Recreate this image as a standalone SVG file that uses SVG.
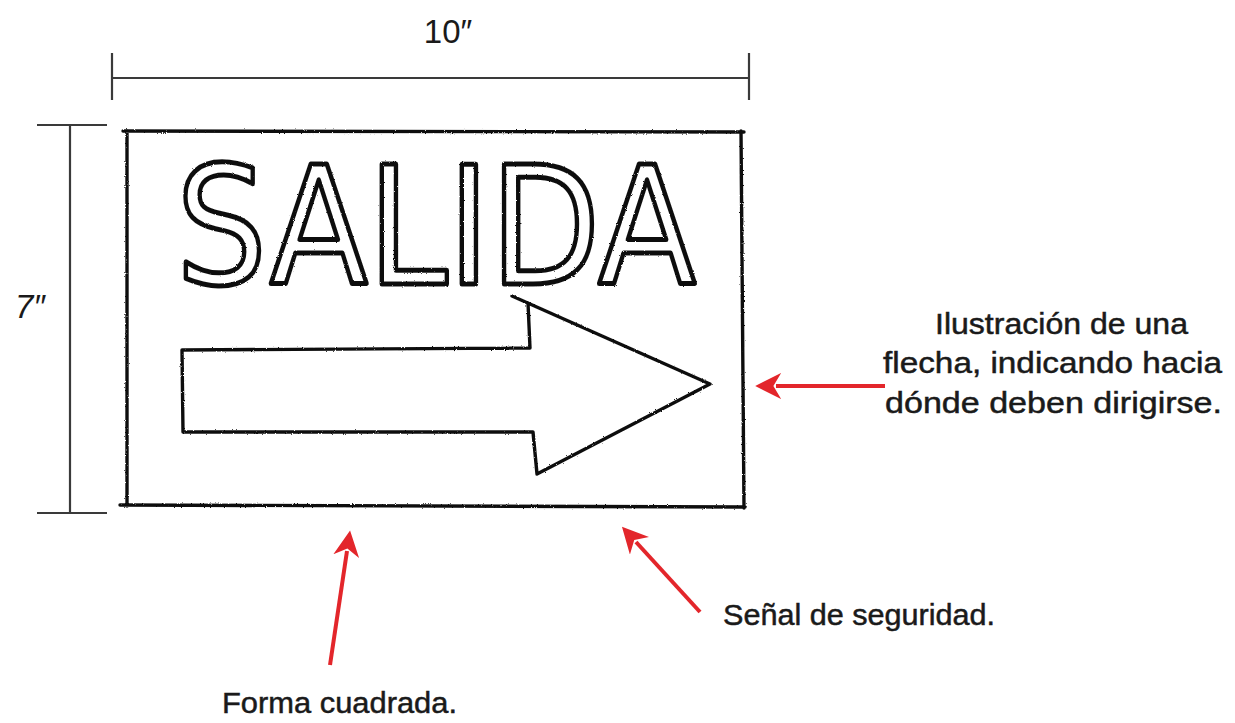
<svg xmlns="http://www.w3.org/2000/svg" width="1235" height="723" viewBox="0 0 1235 723">
<defs>
<filter id="rough" x="-5%" y="-5%" width="110%" height="110%">
<feTurbulence type="fractalNoise" baseFrequency="0.9" numOctaves="2" seed="3" result="n"/>
<feDisplacementMap in="SourceGraphic" in2="n" scale="2.2"/>
</filter>
<marker id="redhead" viewBox="0 0 10 10" refX="2" refY="5" markerWidth="6.5" markerHeight="6.5" orient="auto" markerUnits="strokeWidth">
<path d="M0,0 L10,5 L0,10 L3,5 Z" fill="#e3262b"/>
</marker>
</defs>
<style>
.dim{stroke:#3a3a3a;stroke-width:2.2;fill:none}
.sk{stroke:#111;stroke-width:3.4;fill:none;stroke-linejoin:round;stroke-linecap:round}
.lbl{font-family:"Liberation Sans",Arial,sans-serif;font-size:30px;fill:#1a1a1a;stroke:#1a1a1a;stroke-width:0.5}
.red{stroke:#e3262b;stroke-width:4;fill:none}
</style>
<rect width="1235" height="723" fill="#fff"/>

<g id="dim-width">
<line class="dim" x1="112" y1="78" x2="749" y2="78"/>
<line class="dim" x1="112" y1="53" x2="112" y2="100"/>
<line class="dim" x1="749" y1="53" x2="749" y2="100"/>
<text x="448" y="43" text-anchor="middle" style="font-family:'Liberation Sans',Arial,sans-serif;font-size:33px;fill:#1a1a1a">10″</text>
</g>

<g id="dim-height">
<line class="dim" x1="70" y1="125" x2="70" y2="513"/>
<line class="dim" x1="37" y1="125" x2="107" y2="125"/>
<line class="dim" x1="37" y1="513" x2="107" y2="513"/>
<text x="30" y="318" text-anchor="middle" style="font-family:'Liberation Sans',Arial,sans-serif;font-size:33px;font-style:italic;fill:#1a1a1a">7″</text>
</g>

<g id="sign" filter="url(#rough)">
<path class="sk" d="M123,131 L744,132 M127,131 L127,506 M741,131 L744,508 M120,505 L745,507"/>
<text x="176" y="284" textLength="520" lengthAdjust="spacingAndGlyphs" style="font-family:'DejaVu Sans',sans-serif;font-size:164px;fill:#fff;stroke:#111;stroke-width:5;stroke-linejoin:round">SALIDA</text>
<path class="sk" d="M182,350 L530,348 L528,303 M512,296 L710,384 L537,474 M182,350 L183,432 L533,432 L537,474"/>
</g>

<g id="label-arrow">
<text class="lbl" x="935" y="334" textLength="253" lengthAdjust="spacingAndGlyphs">Ilustración de una</text>
<text class="lbl" x="883" y="373" textLength="339" lengthAdjust="spacingAndGlyphs">flecha, indicando hacia</text>
<text class="lbl" x="885" y="413" textLength="337" lengthAdjust="spacingAndGlyphs">dónde deben dirigirse.</text>
</g>
<g id="label-senal">
<text class="lbl" x="723" y="625" textLength="272" lengthAdjust="spacingAndGlyphs">Señal de seguridad.</text>
</g>
<g id="label-forma">
<text class="lbl" x="222" y="713" textLength="235" lengthAdjust="spacingAndGlyphs">Forma cuadrada.</text>
</g>

<g id="connectors">
<line class="red" x1="885" y1="386" x2="776" y2="386" marker-end="url(#redhead)"/>
<line class="red" x1="330" y1="665" x2="347" y2="551" marker-end="url(#redhead)"/>
<line class="red" x1="700" y1="612" x2="636" y2="542" marker-end="url(#redhead)"/>
</g>
</svg>
